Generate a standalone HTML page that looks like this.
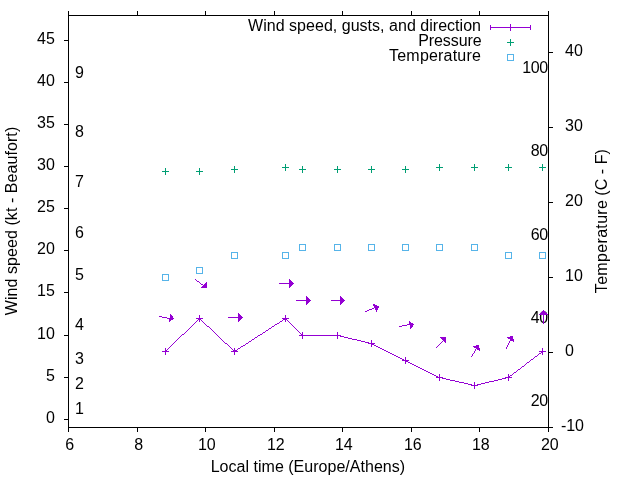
<!DOCTYPE html>
<html><head><meta charset="utf-8"><title>plot</title>
<style>html,body{margin:0;padding:0;background:#fff;overflow:hidden}
svg{display:block;will-change:transform;transform:translateZ(0)}
text{font-family:"Liberation Sans",sans-serif;font-size:16px;fill:#000}
.g{shape-rendering:crispEdges}</style></head>
<body><svg width="640" height="480" viewBox="0 0 640 480">
<g class="g">
<rect x="68" y="15" width="481" height="1"/>
<rect x="68" y="427" width="481" height="1"/>
<rect x="68" y="15" width="1" height="413"/>
<rect x="548" y="15" width="1" height="413"/>
<path fill="#000000" d="M68 11h1v1h-1zM137 11h1v1h-1zM205 11h1v1h-1zM274 11h1v1h-1zM342 11h1v1h-1zM411 11h1v1h-1zM479 11h1v1h-1zM548 11h1v1h-1zM68 12h1v1h-1zM137 12h1v1h-1zM205 12h1v1h-1zM274 12h1v1h-1zM342 12h1v1h-1zM411 12h1v1h-1zM479 12h1v1h-1zM548 12h1v1h-1zM68 13h1v1h-1zM137 13h1v1h-1zM205 13h1v1h-1zM274 13h1v1h-1zM342 13h1v1h-1zM411 13h1v1h-1zM479 13h1v1h-1zM548 13h1v1h-1zM68 14h1v1h-1zM137 14h1v1h-1zM205 14h1v1h-1zM274 14h1v1h-1zM342 14h1v1h-1zM411 14h1v1h-1zM479 14h1v1h-1zM548 14h1v1h-1zM68 15h1v1h-1zM137 15h1v1h-1zM205 15h1v1h-1zM274 15h1v1h-1zM342 15h1v1h-1zM411 15h1v1h-1zM479 15h1v1h-1zM548 15h1v1h-1zM64 40h5v1h-5zM548 52h5v1h-5zM64 82h5v1h-5zM64 124h5v1h-5zM548 127h5v1h-5zM64 166h5v1h-5zM548 202h5v1h-5zM64 208h5v1h-5zM64 250h5v1h-5zM548 277h5v1h-5zM64 292h5v1h-5zM64 335h5v1h-5zM548 352h5v1h-5zM64 377h5v1h-5zM64 419h5v1h-5zM68 427h1v1h-1zM137 427h1v1h-1zM205 427h1v1h-1zM274 427h1v1h-1zM342 427h1v1h-1zM411 427h1v1h-1zM479 427h1v1h-1zM548 427h5v1h-5zM68 428h1v1h-1zM137 428h1v1h-1zM205 428h1v1h-1zM274 428h1v1h-1zM342 428h1v1h-1zM411 428h1v1h-1zM479 428h1v1h-1zM548 428h1v1h-1zM68 429h1v1h-1zM137 429h1v1h-1zM205 429h1v1h-1zM274 429h1v1h-1zM342 429h1v1h-1zM411 429h1v1h-1zM479 429h1v1h-1zM548 429h1v1h-1zM68 430h1v1h-1zM137 430h1v1h-1zM205 430h1v1h-1zM274 430h1v1h-1zM342 430h1v1h-1zM411 430h1v1h-1zM479 430h1v1h-1zM548 430h1v1h-1zM68 431h1v1h-1zM137 431h1v1h-1zM205 431h1v1h-1zM274 431h1v1h-1zM342 431h1v1h-1zM411 431h1v1h-1zM479 431h1v1h-1zM548 431h1v1h-1z"/>
<path fill="#9400d3" d="M510 24h1v1h-1zM490 25h1v1h-1zM510 25h1v1h-1zM530 25h1v1h-1zM490 26h1v1h-1zM510 26h1v1h-1zM530 26h1v1h-1zM490 27h41v1h-41zM490 28h1v1h-1zM510 28h1v1h-1zM530 28h1v1h-1zM490 29h1v1h-1zM510 29h1v1h-1zM530 29h1v1h-1zM510 30h1v1h-1zM199 315h1v1h-1zM285 315h1v1h-1zM199 316h1v1h-1zM285 316h1v1h-1zM199 317h1v1h-1zM285 317h1v1h-1zM196 318h7v1h-7zM282 318h7v1h-7zM198 319h3v1h-3zM283 319h4v1h-4zM197 320h1v1h-1zM199 320h1v1h-1zM201 320h1v1h-1zM282 320h1v1h-1zM285 320h1v1h-1zM287 320h1v1h-1zM196 321h1v1h-1zM199 321h1v1h-1zM202 321h1v1h-1zM280 321h2v1h-2zM285 321h1v1h-1zM288 321h1v1h-1zM195 322h1v1h-1zM203 322h1v1h-1zM279 322h1v1h-1zM289 322h1v1h-1zM194 323h1v1h-1zM204 323h1v1h-1zM277 323h2v1h-2zM290 323h1v1h-1zM193 324h1v1h-1zM205 324h1v1h-1zM275 324h2v1h-2zM291 324h1v1h-1zM192 325h1v1h-1zM206 325h1v1h-1zM274 325h1v1h-1zM292 325h1v1h-1zM191 326h1v1h-1zM207 326h2v1h-2zM272 326h2v1h-2zM293 326h1v1h-1zM190 327h1v1h-1zM209 327h1v1h-1zM271 327h1v1h-1zM294 327h1v1h-1zM189 328h1v1h-1zM210 328h1v1h-1zM269 328h2v1h-2zM295 328h1v1h-1zM188 329h1v1h-1zM211 329h1v1h-1zM268 329h1v1h-1zM296 329h1v1h-1zM187 330h1v1h-1zM212 330h1v1h-1zM266 330h2v1h-2zM297 330h1v1h-1zM186 331h1v1h-1zM213 331h1v1h-1zM265 331h1v1h-1zM298 331h1v1h-1zM185 332h1v1h-1zM214 332h1v1h-1zM263 332h2v1h-2zM299 332h1v1h-1zM302 332h1v1h-1zM337 332h1v1h-1zM184 333h1v1h-1zM215 333h1v1h-1zM262 333h1v1h-1zM300 333h1v1h-1zM302 333h1v1h-1zM337 333h1v1h-1zM182 334h2v1h-2zM216 334h1v1h-1zM260 334h2v1h-2zM301 334h2v1h-2zM337 334h1v1h-1zM181 335h1v1h-1zM217 335h1v1h-1zM258 335h2v1h-2zM299 335h42v1h-42zM180 336h1v1h-1zM218 336h1v1h-1zM257 336h1v1h-1zM302 336h1v1h-1zM337 336h1v1h-1zM340 336h4v1h-4zM179 337h1v1h-1zM219 337h1v1h-1zM255 337h2v1h-2zM302 337h1v1h-1zM337 337h1v1h-1zM344 337h4v1h-4zM178 338h1v1h-1zM220 338h1v1h-1zM254 338h1v1h-1zM302 338h1v1h-1zM337 338h1v1h-1zM348 338h4v1h-4zM177 339h1v1h-1zM221 339h1v1h-1zM252 339h2v1h-2zM352 339h5v1h-5zM176 340h1v1h-1zM222 340h1v1h-1zM251 340h1v1h-1zM357 340h4v1h-4zM371 340h1v1h-1zM175 341h1v1h-1zM223 341h1v1h-1zM249 341h2v1h-2zM361 341h4v1h-4zM371 341h1v1h-1zM174 342h1v1h-1zM224 342h1v1h-1zM248 342h1v1h-1zM365 342h4v1h-4zM371 342h1v1h-1zM173 343h1v1h-1zM225 343h2v1h-2zM246 343h2v1h-2zM368 343h7v1h-7zM172 344h1v1h-1zM227 344h1v1h-1zM245 344h1v1h-1zM371 344h3v1h-3zM171 345h1v1h-1zM228 345h1v1h-1zM243 345h2v1h-2zM371 345h1v1h-1zM374 345h2v1h-2zM170 346h1v1h-1zM229 346h1v1h-1zM241 346h2v1h-2zM371 346h1v1h-1zM376 346h2v1h-2zM169 347h1v1h-1zM230 347h1v1h-1zM240 347h1v1h-1zM378 347h2v1h-2zM165 348h1v1h-1zM168 348h1v1h-1zM231 348h1v1h-1zM234 348h1v1h-1zM238 348h2v1h-2zM380 348h2v1h-2zM542 348h1v1h-1zM165 349h1v1h-1zM167 349h1v1h-1zM232 349h1v1h-1zM234 349h1v1h-1zM237 349h1v1h-1zM382 349h2v1h-2zM542 349h1v1h-1zM165 350h2v1h-2zM233 350h4v1h-4zM384 350h2v1h-2zM542 350h1v1h-1zM162 351h7v1h-7zM231 351h7v1h-7zM386 351h2v1h-2zM539 351h7v1h-7zM165 352h1v1h-1zM234 352h1v1h-1zM388 352h2v1h-2zM541 352h2v1h-2zM165 353h1v1h-1zM234 353h1v1h-1zM390 353h2v1h-2zM539 353h2v1h-2zM542 353h1v1h-1zM165 354h1v1h-1zM234 354h1v1h-1zM392 354h2v1h-2zM538 354h1v1h-1zM542 354h1v1h-1zM394 355h2v1h-2zM537 355h1v1h-1zM396 356h2v1h-2zM535 356h2v1h-2zM398 357h2v1h-2zM405 357h1v1h-1zM534 357h1v1h-1zM400 358h2v1h-2zM405 358h1v1h-1zM533 358h1v1h-1zM402 359h2v1h-2zM405 359h1v1h-1zM531 359h2v1h-2zM402 360h7v1h-7zM530 360h1v1h-1zM405 361h3v1h-3zM529 361h1v1h-1zM405 362h1v1h-1zM408 362h2v1h-2zM527 362h2v1h-2zM405 363h1v1h-1zM410 363h2v1h-2zM526 363h1v1h-1zM412 364h2v1h-2zM525 364h1v1h-1zM414 365h2v1h-2zM524 365h1v1h-1zM416 366h2v1h-2zM522 366h2v1h-2zM418 367h2v1h-2zM521 367h1v1h-1zM420 368h2v1h-2zM520 368h1v1h-1zM422 369h2v1h-2zM518 369h2v1h-2zM424 370h2v1h-2zM517 370h1v1h-1zM426 371h2v1h-2zM516 371h1v1h-1zM428 372h2v1h-2zM514 372h2v1h-2zM430 373h2v1h-2zM513 373h1v1h-1zM432 374h2v1h-2zM439 374h1v1h-1zM508 374h1v1h-1zM512 374h1v1h-1zM434 375h2v1h-2zM439 375h1v1h-1zM508 375h1v1h-1zM510 375h2v1h-2zM436 376h2v1h-2zM439 376h1v1h-1zM508 376h2v1h-2zM436 377h7v1h-7zM505 377h7v1h-7zM439 378h1v1h-1zM442 378h4v1h-4zM502 378h4v1h-4zM508 378h1v1h-1zM439 379h1v1h-1zM446 379h4v1h-4zM498 379h4v1h-4zM508 379h1v1h-1zM439 380h1v1h-1zM450 380h5v1h-5zM494 380h4v1h-4zM508 380h1v1h-1zM455 381h4v1h-4zM489 381h5v1h-5zM459 382h5v1h-5zM474 382h1v1h-1zM485 382h4v1h-4zM464 383h4v1h-4zM474 383h1v1h-1zM481 383h4v1h-4zM468 384h4v1h-4zM474 384h1v1h-1zM477 384h4v1h-4zM471 385h7v1h-7zM474 386h1v1h-1zM474 387h1v1h-1zM474 388h1v1h-1z"/>
<path fill="#009e73" d="M510 39h1v1h-1zM510 40h1v1h-1zM510 41h1v1h-1zM507 42h7v1h-7zM510 43h1v1h-1zM510 44h1v1h-1zM510 45h1v1h-1zM285 164h1v1h-1zM439 164h1v1h-1zM474 164h1v1h-1zM508 164h1v1h-1zM542 164h1v1h-1zM285 165h1v1h-1zM439 165h1v1h-1zM474 165h1v1h-1zM508 165h1v1h-1zM542 165h1v1h-1zM234 166h1v1h-1zM285 166h1v1h-1zM302 166h1v1h-1zM337 166h1v1h-1zM371 166h1v1h-1zM405 166h1v1h-1zM439 166h1v1h-1zM474 166h1v1h-1zM508 166h1v1h-1zM542 166h1v1h-1zM234 167h1v1h-1zM282 167h7v1h-7zM302 167h1v1h-1zM337 167h1v1h-1zM371 167h1v1h-1zM405 167h1v1h-1zM436 167h7v1h-7zM471 167h7v1h-7zM505 167h7v1h-7zM539 167h7v1h-7zM165 168h1v1h-1zM199 168h1v1h-1zM234 168h1v1h-1zM285 168h1v1h-1zM302 168h1v1h-1zM337 168h1v1h-1zM371 168h1v1h-1zM405 168h1v1h-1zM439 168h1v1h-1zM474 168h1v1h-1zM508 168h1v1h-1zM542 168h1v1h-1zM165 169h1v1h-1zM199 169h1v1h-1zM231 169h7v1h-7zM285 169h1v1h-1zM299 169h7v1h-7zM334 169h7v1h-7zM368 169h7v1h-7zM402 169h7v1h-7zM439 169h1v1h-1zM474 169h1v1h-1zM508 169h1v1h-1zM542 169h1v1h-1zM165 170h1v1h-1zM199 170h1v1h-1zM234 170h1v1h-1zM285 170h1v1h-1zM302 170h1v1h-1zM337 170h1v1h-1zM371 170h1v1h-1zM405 170h1v1h-1zM439 170h1v1h-1zM474 170h1v1h-1zM508 170h1v1h-1zM542 170h1v1h-1zM162 171h7v1h-7zM196 171h7v1h-7zM234 171h1v1h-1zM302 171h1v1h-1zM337 171h1v1h-1zM371 171h1v1h-1zM405 171h1v1h-1zM165 172h1v1h-1zM199 172h1v1h-1zM234 172h1v1h-1zM302 172h1v1h-1zM337 172h1v1h-1zM371 172h1v1h-1zM405 172h1v1h-1zM165 173h1v1h-1zM199 173h1v1h-1zM165 174h1v1h-1zM199 174h1v1h-1z"/>
<path fill="#56b4e9" d="M507 54h7v1h-7zM507 55h1v1h-1zM513 55h1v1h-1zM507 56h1v1h-1zM513 56h1v1h-1zM507 57h1v1h-1zM513 57h1v1h-1zM507 58h1v1h-1zM513 58h1v1h-1zM507 59h1v1h-1zM513 59h1v1h-1zM507 60h7v1h-7zM299 244h7v1h-7zM334 244h7v1h-7zM368 244h7v1h-7zM402 244h7v1h-7zM436 244h7v1h-7zM471 244h7v1h-7zM299 245h1v1h-1zM305 245h1v1h-1zM334 245h1v1h-1zM340 245h1v1h-1zM368 245h1v1h-1zM374 245h1v1h-1zM402 245h1v1h-1zM408 245h1v1h-1zM436 245h1v1h-1zM442 245h1v1h-1zM471 245h1v1h-1zM477 245h1v1h-1zM299 246h1v1h-1zM305 246h1v1h-1zM334 246h1v1h-1zM340 246h1v1h-1zM368 246h1v1h-1zM374 246h1v1h-1zM402 246h1v1h-1zM408 246h1v1h-1zM436 246h1v1h-1zM442 246h1v1h-1zM471 246h1v1h-1zM477 246h1v1h-1zM299 247h1v1h-1zM305 247h1v1h-1zM334 247h1v1h-1zM340 247h1v1h-1zM368 247h1v1h-1zM374 247h1v1h-1zM402 247h1v1h-1zM408 247h1v1h-1zM436 247h1v1h-1zM442 247h1v1h-1zM471 247h1v1h-1zM477 247h1v1h-1zM299 248h1v1h-1zM305 248h1v1h-1zM334 248h1v1h-1zM340 248h1v1h-1zM368 248h1v1h-1zM374 248h1v1h-1zM402 248h1v1h-1zM408 248h1v1h-1zM436 248h1v1h-1zM442 248h1v1h-1zM471 248h1v1h-1zM477 248h1v1h-1zM299 249h1v1h-1zM305 249h1v1h-1zM334 249h1v1h-1zM340 249h1v1h-1zM368 249h1v1h-1zM374 249h1v1h-1zM402 249h1v1h-1zM408 249h1v1h-1zM436 249h1v1h-1zM442 249h1v1h-1zM471 249h1v1h-1zM477 249h1v1h-1zM299 250h7v1h-7zM334 250h7v1h-7zM368 250h7v1h-7zM402 250h7v1h-7zM436 250h7v1h-7zM471 250h7v1h-7zM231 252h7v1h-7zM282 252h7v1h-7zM505 252h7v1h-7zM539 252h7v1h-7zM231 253h1v1h-1zM237 253h1v1h-1zM282 253h1v1h-1zM288 253h1v1h-1zM505 253h1v1h-1zM511 253h1v1h-1zM539 253h1v1h-1zM545 253h1v1h-1zM231 254h1v1h-1zM237 254h1v1h-1zM282 254h1v1h-1zM288 254h1v1h-1zM505 254h1v1h-1zM511 254h1v1h-1zM539 254h1v1h-1zM545 254h1v1h-1zM231 255h1v1h-1zM237 255h1v1h-1zM282 255h1v1h-1zM288 255h1v1h-1zM505 255h1v1h-1zM511 255h1v1h-1zM539 255h1v1h-1zM545 255h1v1h-1zM231 256h1v1h-1zM237 256h1v1h-1zM282 256h1v1h-1zM288 256h1v1h-1zM505 256h1v1h-1zM511 256h1v1h-1zM539 256h1v1h-1zM545 256h1v1h-1zM231 257h1v1h-1zM237 257h1v1h-1zM282 257h1v1h-1zM288 257h1v1h-1zM505 257h1v1h-1zM511 257h1v1h-1zM539 257h1v1h-1zM545 257h1v1h-1zM231 258h7v1h-7zM282 258h7v1h-7zM505 258h7v1h-7zM539 258h7v1h-7zM196 267h7v1h-7zM196 268h1v1h-1zM202 268h1v1h-1zM196 269h1v1h-1zM202 269h1v1h-1zM196 270h1v1h-1zM202 270h1v1h-1zM196 271h1v1h-1zM202 271h1v1h-1zM196 272h1v1h-1zM202 272h1v1h-1zM196 273h7v1h-7zM162 274h7v1h-7zM162 275h1v1h-1zM168 275h1v1h-1zM162 276h1v1h-1zM168 276h1v1h-1zM162 277h1v1h-1zM168 277h1v1h-1zM162 278h1v1h-1zM168 278h1v1h-1zM162 279h1v1h-1zM168 279h1v1h-1zM162 280h7v1h-7z"/>
</g>
<g>
<text x="69.8" y="449.7" text-anchor="middle">6</text>
<text x="138.8" y="449.7" text-anchor="middle">8</text>
<text x="206.8" y="449.7" text-anchor="middle">10</text>
<text x="275.8" y="449.7" text-anchor="middle">12</text>
<text x="343.8" y="449.7" text-anchor="middle">14</text>
<text x="412.8" y="449.7" text-anchor="middle">16</text>
<text x="480.8" y="449.7" text-anchor="middle">18</text>
<text x="549.8" y="449.7" text-anchor="middle">20</text>
<text x="54.8" y="422.5" text-anchor="end">0</text>
<text x="54.8" y="380.5" text-anchor="end">5</text>
<text x="54.8" y="338.5" text-anchor="end">10</text>
<text x="54.8" y="295.5" text-anchor="end">15</text>
<text x="54.8" y="253.5" text-anchor="end">20</text>
<text x="54.8" y="211.5" text-anchor="end">25</text>
<text x="54.8" y="169.5" text-anchor="end">30</text>
<text x="54.8" y="127.5" text-anchor="end">35</text>
<text x="54.8" y="85.5" text-anchor="end">40</text>
<text x="54.8" y="43.5" text-anchor="end">45</text>
<text x="560.9" y="430.5" text-anchor="start">-10</text>
<text x="565" y="355.5" text-anchor="start">0</text>
<text x="565" y="280.5" text-anchor="start">10</text>
<text x="565" y="205.5" text-anchor="start">20</text>
<text x="565" y="130.5" text-anchor="start">30</text>
<text x="565" y="55.5" text-anchor="start">40</text>
<text x="75" y="78" text-anchor="start">9</text>
<text x="75" y="137" text-anchor="start">8</text>
<text x="75" y="187" text-anchor="start">7</text>
<text x="75" y="238" text-anchor="start">6</text>
<text x="75" y="280" text-anchor="start">5</text>
<text x="75" y="330" text-anchor="start">4</text>
<text x="75" y="364" text-anchor="start">3</text>
<text x="75" y="389" text-anchor="start">2</text>
<text x="75" y="414" text-anchor="start">1</text>
<text x="547.9" y="73" text-anchor="end" letter-spacing="-0.35">100</text>
<text x="547.9" y="156" text-anchor="end" letter-spacing="-0.35">80</text>
<text x="547.9" y="240" text-anchor="end" letter-spacing="-0.35">60</text>
<text x="547.9" y="323" text-anchor="end" letter-spacing="-0.35">40</text>
<text x="547.9" y="406" text-anchor="end" letter-spacing="-0.35">20</text>
<text x="17" y="221" text-anchor="middle" transform="rotate(-90 17 221)" letter-spacing="0.07">Wind speed (kt - Beaufort)</text>
<text x="607" y="293.2" text-anchor="start" transform="rotate(-90 607 293.2)" letter-spacing="0.33">Temperature</text>
<text x="607" y="195.7" text-anchor="start" transform="rotate(-90 607 195.7)" letter-spacing="0.05">(C - F)</text>
<text x="307.9" y="472" text-anchor="middle" letter-spacing="0.02">Local time (Europe/Athens)</text>
<text x="481" y="31" text-anchor="end" letter-spacing="0.025">Wind speed, gusts, and direction</text>
<text x="481.6" y="46" text-anchor="end" letter-spacing="-0.08">Pressure</text>
<text x="481.1" y="61" text-anchor="end" letter-spacing="0.2">Temperature</text>
</g>
<g class="g">
<path fill="#9400d3" d="M195 279h1v1h-1zM289 279h1v1h-1zM196 280h1v1h-1zM289 280h2v1h-2zM197 281h2v1h-2zM289 281h3v1h-3zM199 282h1v1h-1zM206 282h1v1h-1zM289 282h4v1h-4zM200 283h1v1h-1zM205 283h2v1h-2zM279 283h15v1h-15zM201 284h2v1h-2zM204 284h3v1h-3zM289 284h4v1h-4zM203 285h4v1h-4zM289 285h3v1h-3zM202 286h5v1h-5zM289 286h2v1h-2zM201 287h6v1h-6zM289 287h1v1h-1zM306 296h1v1h-1zM340 296h1v1h-1zM306 297h2v1h-2zM340 297h2v1h-2zM306 298h3v1h-3zM340 298h3v1h-3zM306 299h4v1h-4zM340 299h4v1h-4zM296 300h15v1h-15zM331 300h14v1h-14zM306 301h4v1h-4zM340 301h4v1h-4zM306 302h3v1h-3zM340 302h3v1h-3zM306 303h2v1h-2zM340 303h2v1h-2zM306 304h1v1h-1zM340 304h1v1h-1zM373 304h2v1h-2zM373 305h4v1h-4zM374 306h5v1h-5zM374 307h5v1h-5zM372 308h2v1h-2zM375 308h3v1h-3zM369 309h3v1h-3zM375 309h3v1h-3zM367 310h2v1h-2zM376 310h1v1h-1zM543 310h1v1h-1zM365 311h2v1h-2zM376 311h1v1h-1zM542 311h3v1h-3zM541 312h5v1h-5zM238 313h1v1h-1zM540 313h7v1h-7zM170 314h1v1h-1zM238 314h2v1h-2zM539 314h9v1h-9zM170 315h2v1h-2zM238 315h3v1h-3zM543 315h1v1h-1zM159 316h3v1h-3zM170 316h3v1h-3zM238 316h4v1h-4zM543 316h1v1h-1zM162 317h5v1h-5zM170 317h3v1h-3zM228 317h15v1h-15zM543 317h1v1h-1zM167 318h7v1h-7zM238 318h4v1h-4zM543 318h1v1h-1zM169 319h4v1h-4zM238 319h3v1h-3zM543 319h1v1h-1zM169 320h2v1h-2zM238 320h2v1h-2zM543 320h1v1h-1zM169 321h1v1h-1zM238 321h1v1h-1zM409 321h1v1h-1zM543 321h1v1h-1zM409 322h2v1h-2zM543 322h1v1h-1zM409 323h4v1h-4zM543 323h1v1h-1zM407 324h7v1h-7zM402 325h5v1h-5zM410 325h3v1h-3zM399 326h3v1h-3zM410 326h3v1h-3zM410 327h2v1h-2zM410 328h1v1h-1zM510 336h3v1h-3zM440 337h6v1h-6zM507 337h6v1h-6zM441 338h5v1h-5zM508 338h5v1h-5zM442 339h4v1h-4zM510 339h4v1h-4zM443 340h3v1h-3zM510 340h4v1h-4zM442 341h1v1h-1zM444 341h2v1h-2zM509 341h1v1h-1zM513 341h1v1h-1zM441 342h1v1h-1zM445 342h1v1h-1zM509 342h1v1h-1zM440 343h1v1h-1zM508 343h1v1h-1zM439 344h1v1h-1zM508 344h1v1h-1zM438 345h1v1h-1zM476 345h3v1h-3zM507 345h1v1h-1zM437 346h1v1h-1zM473 346h6v1h-6zM507 346h1v1h-1zM436 347h1v1h-1zM474 347h5v1h-5zM506 347h1v1h-1zM476 348h4v1h-4zM506 348h1v1h-1zM475 349h1v1h-1zM477 349h3v1h-3zM475 350h1v1h-1zM479 350h1v1h-1zM474 351h1v1h-1zM474 352h1v1h-1zM473 353h1v1h-1zM472 354h1v1h-1zM472 355h1v1h-1zM471 356h1v1h-1z"/>
</g>
</svg></body></html>
